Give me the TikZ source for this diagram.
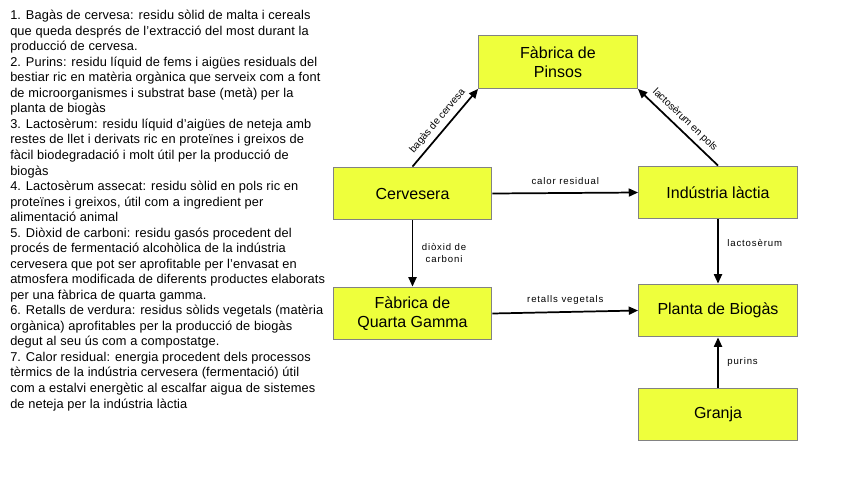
\documentclass[tikz,border=0pt]{standalone}
\usepackage{fontspec}
\setmainfont{Liberation Sans}
\usetikzlibrary{arrows.meta}
\definecolor{boxyellow}{RGB}{238,255,60}
\definecolor{boxgray}{RGB}{130,130,130}
\begin{document}
\begin{tikzpicture}[x=0.75pt, y=-0.75pt,
  caixa/.style={draw=boxgray, fill=boxyellow, line width=0.9pt, minimum width=119pt,
    minimum height=39.5pt, align=center, font=\fontsize{12}{13.8}\selectfont},
  fletxa/.style={line width=1.3pt, -{Triangle[length=7pt,width=6pt]}},
  etiq/.style={font=\fontsize{7.2}{9}\selectfont\addfontfeature{LetterSpace=9}, align=center},
  etiqinc/.style={font=\fontsize{7.6}{9}\selectfont, sloped, above}]
\useasboundingbox (0,0) rectangle (848,477);
% notes
\node[anchor=north west, inner sep=0pt, align=left,
  font=\fontsize{9.6}{11.65}\selectfont\addfontfeature{LetterSpace=1}] (notes) at (10,10) {%
1. Bagàs de cervesa: residu sòlid de malta i cereals\\
que queda després de l'extracció del most durant la\\
producció de cervesa.\\
2. Purins: residu líquid de fems i aigües residuals del\\
bestiar ric en matèria orgànica que serveix com a font\\
de microorganismes i substrat base (metà) per la\\
planta de biogàs\\
3. Lactosèrum: residu líquid d'aigües de neteja amb\\
restes de llet i derivats ric en proteïnes i greixos de\\
fàcil biodegradació i molt útil per la producció de\\
biogàs\\
4. Lactosèrum assecat: residu sòlid en pols ric en\\
proteïnes i greixos, útil com a ingredient per\\
alimentació animal\\
5. Diòxid de carboni: residu gasós procedent del\\
procés de fermentació alcohòlica de la indústria\\
cervesera que pot ser aprofitable per l'envasat en\\
atmosfera modificada de diferents productes elaborats\\
per una fàbrica de quarta gamma.\\
6. Retalls de verdura: residus sòlids vegetals (matèria\\
orgànica) aprofitables per la producció de biogàs\\
degut al seu ús com a compostatge.\\
7. Calor residual: energia procedent dels processos\\
tèrmics de la indústria cervesera (fermentació) útil\\
com a estalvi energètic al escalfar aigua de sistemes\\
de neteja per la indústria làctia};
% caixes
\node[caixa] (pinsos) at (558,62) {Fàbrica de\\Pinsos};
\node[caixa] (cervesera) at (412.5,193.5) {Cervesera};
\node[caixa] (lactia) at (718,192.5) {Indústria làctia};
\node[caixa] (quarta) at (412.5,313.5) {Fàbrica de\\Quarta Gamma};
\node[caixa] (biogas) at (718,310.5) {Planta de Biogàs};
\node[caixa] (granja) at (718,414.5) {Granja};
% fletxes
\draw[fletxa] (cervesera.north) -- node[etiqinc] {bagàs de cervesa} (pinsos.south west);
\draw[fletxa] (lactia.north) -- node[etiqinc] {lactosèrum en pols} (pinsos.south east);
\draw[fletxa] (cervesera.east) -- node[etiq, above, yshift=2pt] {calor residual} (lactia.west);
\draw[fletxa] (cervesera.south) -- node[etiq, right, xshift=3pt] {diòxid de\\carboni} (quarta.north);
\draw[fletxa] (quarta.east) -- node[etiq, above, yshift=2pt] {retalls vegetals} (biogas.west);
\draw[fletxa] (lactia.south) -- node[etiq, right, xshift=3pt, pos=0.37] {lactosèrum} (biogas.north);
\draw[fletxa] (granja.north) -- node[etiq, right, xshift=3pt] {purins} (biogas.south);
\end{tikzpicture}
\end{document}
